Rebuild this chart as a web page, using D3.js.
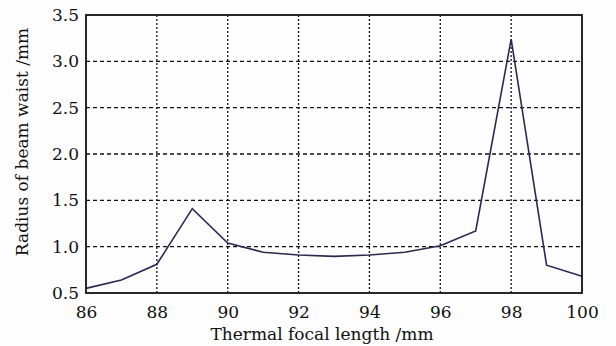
<!DOCTYPE html>
<html><head><meta charset="utf-8">
<script src="https://cdn.jsdelivr.net/npm/d3@7"></script>
<style>html,body{margin:0;padding:0;background:#fdfdfd;}svg{display:block;}
svg text{font-family:"DejaVu Serif",serif;fill:#111;}</style>
</head><body>
<svg id="c" width="616" height="346"></svg>
<script>
const focal = [86, 87, 88, 89, 90, 91, 92, 93, 94, 95, 96, 97, 98, 99, 100];
const waist = [0.55, 0.64, 0.81, 1.41, 1.04, 0.94, 0.91, 0.895, 0.91, 0.94, 1.01, 1.17, 3.24, 0.80, 0.68];
const xTicks = [86, 88, 90, 92, 94, 96, 98, 100];
const yTicks = [0.5, 1.0, 1.5, 2.0, 2.5, 3.0, 3.5];
const xLabel = "Thermal focal length /mm";
const yLabel = "Radius of beam waist /mm";

const svg = d3.select("#c");
const m = {l: 86, r: 34, t: 15, b: 53};
const W = 616, H = 346;
const x = d3.scaleLinear().domain([86, 100]).range([m.l, W - m.r]);
const y = d3.scaleLinear().domain([0.5, 3.5]).range([H - m.b, m.t]);
const font = "DejaVu Serif";

// grid
svg.append("g").selectAll("line").data(xTicks.slice(1, -1)).join("line")
  .attr("x1", d => x(d)).attr("x2", d => x(d)).attr("y1", y(3.5)).attr("y2", y(0.5))
  .attr("stroke", "#111").attr("stroke-width", 1.3).attr("stroke-dasharray", "2,2");
svg.append("g").selectAll("line").data(yTicks.slice(1, -1)).join("line")
  .attr("y1", d => y(d)).attr("y2", d => y(d)).attr("x1", x(86)).attr("x2", x(100))
  .attr("stroke", "#111").attr("stroke-width", 1.3).attr("stroke-dasharray", "4,3");

// line
svg.append("path").datum(focal.map((f, i) => [f, waist[i]]))
  .attr("fill", "none").attr("stroke", "#2b2950").attr("stroke-width", 1.6)
  .attr("d", d3.line().x(d => x(d[0])).y(d => y(d[1])));

// frame
svg.append("rect").attr("x", x(86)).attr("y", y(3.5))
  .attr("width", x(100) - x(86)).attr("height", y(0.5) - y(3.5))
  .attr("fill", "none").attr("stroke", "#111").attr("stroke-width", 1.8);

// axes
const xa = svg.append("g").attr("transform", `translate(0,${y(0.5)})`)
  .call(d3.axisBottom(x).tickValues(xTicks).tickSize(0).tickPadding(13).tickFormat(d3.format("d")));
const ya = svg.append("g").attr("transform", `translate(${x(86)},0)`)
  .call(d3.axisLeft(y).tickValues(yTicks).tickSize(0).tickPadding(7).tickFormat(d3.format(".1f")));
[xa, ya].forEach(a => {
  a.attr("font-family", null).attr("font-size", null);
  a.select(".domain").remove();
  a.selectAll("text").style("font-family", font).style("font-size", "17px");
});

svg.append("text").attr("x", 322).attr("y", 340).attr("text-anchor", "middle")
  .style("font-family", font).style("font-size", "17px").text(xLabel);
svg.append("text").attr("transform", "translate(28,142) rotate(-90)").attr("text-anchor", "middle")
  .style("font-family", font).style("font-size", "17px").text(yLabel);
</script>
</body></html>
